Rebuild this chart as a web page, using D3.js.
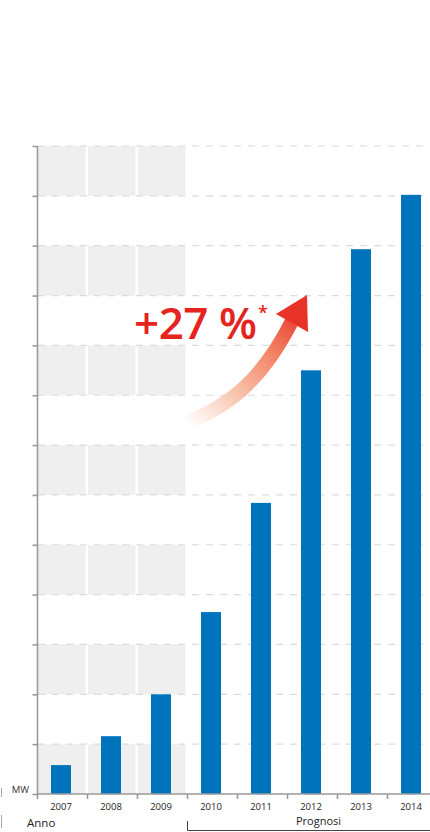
<!DOCTYPE html>
<html>
<head>
<meta charset="utf-8">
<script src="https://cdn.jsdelivr.net/npm/d3@7"></script>
<style>
  html, body { margin: 0; padding: 0; background: #fff; }
  svg { display: block; }
  text { font-family: "Open Sans", "Noto Sans", sans-serif; }
</style>
</head>
<body>
<svg id="chart"></svg>
<script>
// values (MW, one grid step = 500)
var years = ["2007", "2008", "2009", "2010", "2011", "2012", "2013", "2014"];
var values = [290, 580, 1000, 1825, 2920, 4250, 5465, 6010];
var shadedYears = ["2007", "2008", "2009"];
var forecastYears = ["2010", "2011", "2012", "2013", "2014"];
var growthLabel = "+27 %";

var width = 430, height = 832;
var svg = d3.select("#chart")
    .attr("width", width)
    .attr("height", height);

var x = d3.scaleBand()
    .domain(years)
    .range([37, 437]);

var y = d3.scaleLinear()
    .domain([0, 6500])
    .range([794, 146]);

var gridTicks = d3.range(0, 6501, 500);

// grey boxes behind the historic years
var rows = d3.range(0, 6500, 1000);
shadedYears.forEach(function(yr) {
    svg.append("g").selectAll("rect")
        .data(rows)
        .enter()
        .append("rect")
        .attr("x", x(yr) + 1)
        .attr("width", x.bandwidth() - 2.5)
        .attr("y", function(d) { return y(d + 500); })
        .attr("height", function(d) { return y(d) - y(d + 500); })
        .style("fill", "#eeefee");
});

// dashed grid
svg.append("g").selectAll("line")
    .data(gridTicks.filter(function(d) { return d > 0; }))
    .enter()
    .append("line")
    .attr("x1", 38)
    .attr("x2", width)
    .attr("y1", function(d) { return y(d); })
    .attr("y2", function(d) { return y(d); })
    .style("stroke", "#dcdcdc")
    .style("stroke-width", 1.2)
    .style("stroke-dasharray", "7,7");

// bars
var barW = 20;
svg.append("g").selectAll("rect")
    .data(years)
    .enter()
    .append("rect")
    .attr("x", function(d) { return x(d) + x.bandwidth() / 2 - barW / 2 - 1; })
    .attr("width", barW)
    .attr("y", function(d, i) { return y(values[i]); })
    .attr("height", function(d, i) { return y(0) - y(values[i]); })
    .style("fill", "#0073bd");

// y axis
var yAxis = d3.axisLeft(y)
    .tickValues(gridTicks)
    .tickSize(5)
    .tickFormat("");
var gy = svg.append("g")
    .attr("transform", "translate(37.5,0)")
    .call(yAxis);
gy.select(".domain").attr("d", "M0," + y(6500) + "V" + y(0));

// x axis
var xAxis = d3.axisBottom(x)
    .tickSize(0)
    .tickPadding(9);
var gx = svg.append("g")
    .attr("transform", "translate(0," + y(0) + ")")
    .call(xAxis);
gx.select(".domain").attr("d", "M37," + "0H" + width);
gx.selectAll("text")
    .style("font-size", "9.5px")
    .style("fill", "#222")
    .attr("dx", -1);
gx.selectAll(".boundary")
    .data(years)
    .enter()
    .append("line")
    .attr("x1", function(d) { return x(d) + 0.5; })
    .attr("x2", function(d) { return x(d) + 0.5; })
    .attr("y1", 0)
    .attr("y2", 5);

gy.selectAll(".domain, .tick line").style("stroke", "#9a9a9e").style("stroke-width", 1.6);
gx.selectAll(".domain, line").style("stroke", "#9a9a9e").style("stroke-width", 1.6);

// labels
svg.append("text")
    .attr("x", 29).attr("y", 793)
    .attr("text-anchor", "end")
    .style("font-size", "9.5px")
    .style("fill", "#333")
    .text("MW");

svg.append("text")
    .attr("x", 27).attr("y", 827)
    .style("font-size", "11.5px")
    .style("fill", "#222")
    .text("Anno");

var f0 = x(forecastYears[0]);
svg.append("text")
    .attr("x", (f0 + width) / 2 + 10).attr("y", 825)
    .attr("text-anchor", "middle")
    .style("font-size", "11px")
    .style("fill", "#222")
    .text("Prognosi");

svg.append("path")
    .attr("d", "M" + (f0 + 0.5) + ",821V830.5H" + width)
    .style("fill", "none")
    .style("stroke", "#444")
    .style("stroke-width", 1);

// little marks at the far left edge
svg.append("path")
    .attr("d", "M1.5,788V797M1.5,815V828")
    .style("stroke", "#aaa")
    .style("stroke-width", 1);

// growth arrow
var defs = svg.append("defs");
var grad = defs.append("linearGradient")
    .attr("id", "arrowGrad")
    .attr("gradientUnits", "userSpaceOnUse")
    .attr("x1", 186).attr("y1", 422)
    .attr("x2", 300).attr("y2", 305);
grad.append("stop").attr("offset", 0).attr("stop-color", "#ffffff");
grad.append("stop").attr("offset", 0.35).attr("stop-color", "#f8c2ac");
grad.append("stop").attr("offset", 0.7).attr("stop-color", "#f27d5e");
grad.append("stop").attr("offset", 1).attr("stop-color", "#e8302a");

svg.append("path")
    .attr("d", "M184,423C228,408 262,380 292,321")
    .style("fill", "none")
    .style("stroke", "url(#arrowGrad)")
    .style("stroke-width", 14);

svg.append("path")
    .attr("d", "M307,295L276,314L308,332Z")
    .style("fill", "#e8332a");

svg.append("text")
    .attr("x", 134).attr("y", 339)
    .style("font-size", "44px")
    .style("font-weight", 600)
    .style("fill", "#e52420")
    .style("letter-spacing", "-0.5px")
    .text(growthLabel);

svg.append("text")
    .attr("x", 258).attr("y", 319)
    .style("font-size", "18px")
    .style("font-weight", 600)
    .style("fill", "#e52420")
    .text("*");
</script>
</body>
</html>
